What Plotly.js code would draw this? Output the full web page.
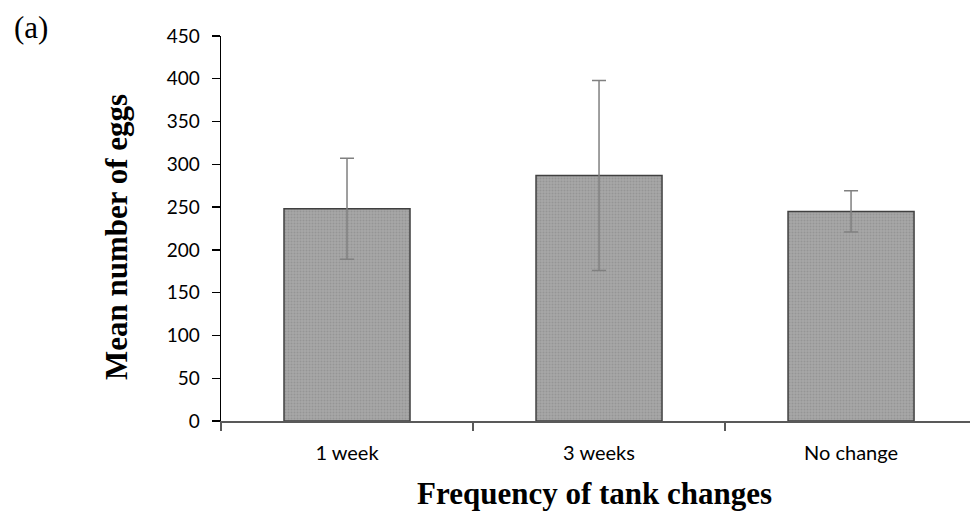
<!DOCTYPE html>
<html>
<head>
<meta charset="utf-8">
<script src="https://cdn.plot.ly/plotly-3.0.1.min.js"></script>
<style>html,body{margin:0;padding:0;background:#fff;}#chart{width:970px;height:518px;}</style>
</head>
<body>
<div id="chart"></div>
<script>
var categories = ["1 week", "3 weeks", "No change"];
var meanEggs = [248, 287, 245];
var errorEggs = [59, 111, 24];
var yTicks = [0, 50, 100, 150, 200, 250, 300, 350, 400, 450];

var trace = {
  type: "bar",
  x: categories,
  y: meanEggs,
  width: 0.5,
  marker: {
    color: "#a6a6a6",
    line: {color: "#404040", width: 1.5},
    pattern: {shape: ".", fgcolor: "#959595", bgcolor: "#a8a8a8", size: 3, solidity: 0.35}
  },
  error_y: {type: "data", array: errorEggs, visible: true, color: "#808080", thickness: 1.5, width: 7},
  hoverinfo: "none"
};

var layout = {
  width: 970, height: 518,
  margin: {l: 221, r: 0, t: 36, b: 97},
  paper_bgcolor: "#fff", plot_bgcolor: "#fff",
  showlegend: false,
  xaxis: {
    type: "category",
    range: [-0.5, 2.472],
    showline: true, linecolor: "#595959", linewidth: 1.5,
    ticks: "outside", tickson: "boundaries", ticklen: 8, tickcolor: "#595959", tickwidth: 1.5,
    showgrid: false, zeroline: false,
    ticklabelstandoff: 13,
    tickfont: {family: "Lato, 'Open Sans', sans-serif", size: 20, color: "#000"}
  },
  yaxis: {
    range: [0, 450],
    tickvals: yTicks,
    showline: true, linecolor: "#000", linewidth: 1.3,
    ticks: "outside", ticklen: 8, tickcolor: "#000", tickwidth: 1.3,
    showgrid: false, zeroline: false,
    ticklabelstandoff: 8,
    tickfont: {family: "Lato, 'Open Sans', sans-serif", size: 19, color: "#000"}
  },
  annotations: [
    {text: "(a)", xref: "paper", yref: "paper", x: (12-221)/749, y: (421-27)/385, xanchor: "left", yanchor: "middle",
     showarrow: false, font: {family: "'Liberation Serif', 'Times New Roman', serif", size: 31, color: "#000"}},
    {text: "<b>Frequency of tank changes</b>", xref: "paper", yref: "paper", x: (594-221)/749, y: (421-493)/385, xanchor: "center", yanchor: "middle",
     showarrow: false, font: {family: "'Liberation Serif', 'Times New Roman', serif", size: 31, color: "#000"}},
    {text: "<b>Mean number of eggs</b>", xref: "paper", yref: "paper", x: (116-221)/749, y: (421-237)/385, xanchor: "center", yanchor: "middle",
     textangle: -90, showarrow: false, font: {family: "'Liberation Serif', 'Times New Roman', serif", size: 31, color: "#000"}}
  ]
};

Plotly.newPlot("chart", [trace], layout, {displayModeBar: false, staticPlot: true});
</script>
</body>
</html>
